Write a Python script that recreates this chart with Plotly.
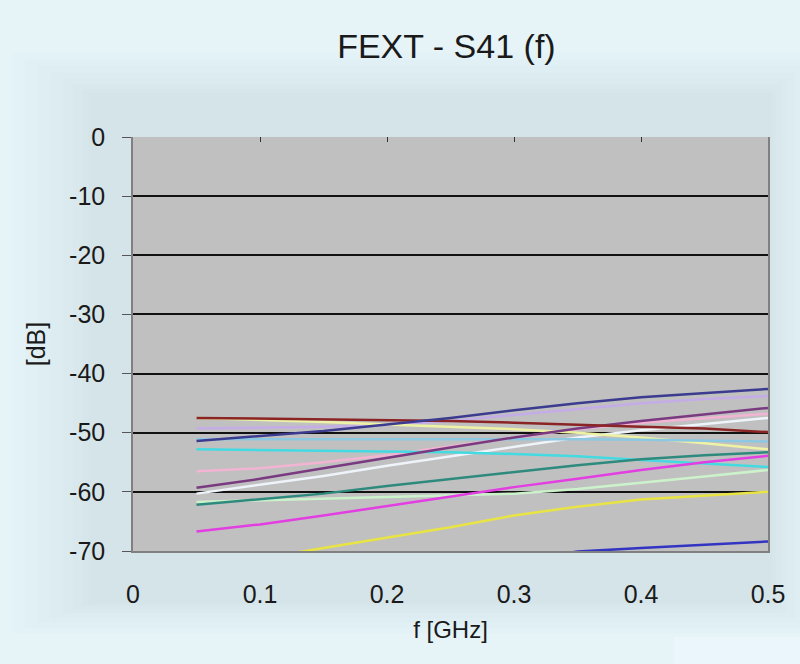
import plotly.graph_objects as go

freq = [0.05, 0.1, 0.15, 0.2, 0.25, 0.3, 0.35, 0.4, 0.45, 0.5]

s_lavender = [-49.3, -49.2, -49.0, -48.7, -48.0, -47.0, -46.0, -45.0, -44.3, -43.8]
s_pink = [-56.5, -56.0, -55.0, -53.8, -52.3, -50.8, -49.4, -48.3, -47.5, -46.8]
s_white = [-60.3, -58.8, -57.3, -55.6, -54.0, -52.4, -50.8, -49.6, -48.5, -47.5]
s_paleyellow = [-47.5, -47.8, -48.2, -48.6, -49.0, -49.4, -50.0, -50.8, -51.8, -52.8]
s_lightblue = [-51.1, -51.1, -51.0, -51.0, -51.0, -51.0, -51.1, -51.2, -51.4, -51.5]
s_palegreen = [-61.7, -61.4, -61.1, -60.8, -60.6, -60.3, -59.5, -58.5, -57.4, -56.3]
s_cyan = [-52.8, -52.9, -53.0, -53.1, -53.3, -53.6, -54.0, -54.6, -55.2, -55.8]
s_teal = [-62.2, -61.3, -60.3, -59.0, -57.8, -56.6, -55.5, -54.5, -53.8, -53.3]
s_purple = [-59.3, -57.8, -56.0, -54.2, -52.5, -50.8, -49.3, -48.0, -46.9, -45.8]
s_brown = [-47.5, -47.6, -47.7, -47.8, -48.0, -48.3, -48.7, -49.0, -49.3, -49.9]
s_navy = [-51.4, -50.6, -49.7, -48.6, -47.5, -46.2, -45.0, -44.0, -43.3, -42.6]
s_magenta = [-66.7, -65.5, -64.0, -62.4, -60.7, -59.2, -57.8, -56.3, -55.0, -53.9]
s_yellow = [-73.5, -71.3, -69.5, -67.7, -66.0, -64.0, -62.5, -61.3, -60.6, -60.0]
s_blue = [-78.0, -77.0, -75.8, -74.5, -73.0, -71.5, -70.1, -69.5, -69.0, -68.4]

series = [
    ("lavender", s_lavender, "#c4ace6"),
    ("pink", s_pink, "#f2b4d2"),
    ("white", s_white, "#eef4fa"),
    ("paleyellow", s_paleyellow, "#eef2a4"),
    ("lightblue", s_lightblue, "#8cc8e2"),
    ("palegreen", s_palegreen, "#ccf2cc"),
    ("cyan", s_cyan, "#44dae2"),
    ("teal", s_teal, "#2f8a7e"),
    ("purple", s_purple, "#7a3a80"),
    ("brown", s_brown, "#8b2424"),
    ("navy", s_navy, "#3b3b8f"),
    ("magenta", s_magenta, "#e23ee2"),
    ("yellow", s_yellow, "#e8e444"),
    ("blue", s_blue, "#3434c2"),
]

x_ticks = [0, 0.1, 0.2, 0.3, 0.4, 0.5]
x_tick_text = ["0", "0.1", "0.2", "0.3", "0.4", "0.5"]
y_ticks = [0, -10, -20, -30, -40, -50, -60, -70]
y_tick_text = ["0", "-10", "-20", "-30", "-40", "-50", "-60", "-70"]

FONT = "Liberation Sans, Arial, sans-serif"

fig = go.Figure()
for name, vals, col in series:
    fig.add_trace(go.Scatter(x=freq, y=vals, mode="lines", name=name,
                             line=dict(color=col, width=2.5), showlegend=False,
                             xaxis="x", yaxis="y"))

# invisible trace on top axis for tick marks
fig.add_trace(go.Scatter(x=[0, 0.5], y=[0, 0], mode="lines", line=dict(width=0),
                         showlegend=False, hoverinfo="skip", xaxis="x2", yaxis="y"))

shapes = []
# soft glow around the plot (stacked translucent rectangles)
for pad in [0.13, 0.11, 0.09, 0.07, 0.05, 0.035, 0.02, 0.01]:
    shapes.append(dict(type="rect", xref="paper", yref="paper",
                       x0=-0.06 - pad, x1=1.0 + pad * 0.6, y0=-0.12 - pad * 0.6, y1=1.10 + pad * 0.8,
                       fillcolor="rgba(165,200,200,0.035)", line=dict(width=0), layer="below"))
# light patch at lower right
shapes.append(dict(type="rect", xref="paper", yref="paper", x0=0.853, x1=1.06, y0=-0.2065, y1=-0.28,
                   fillcolor="#eaf6fb", line=dict(width=0), layer="below"))
# opaque plot background over the glow (gridlines stay on top)
shapes.append(dict(type="rect", xref="x", yref="y", x0=0, x1=0.5, y0=-70, y1=0,
                   fillcolor="#c0c0c0", line=dict(width=0), layer="below"))

fig.update_layout(
    width=800, height=664,
    paper_bgcolor="#e6f4f8",
    plot_bgcolor="#c0c0c0",
    margin=dict(l=133, r=32, t=137, b=113),
    title=dict(text="FEXT - S41 (f)", x=0.558, xanchor="center", y=0.93, yanchor="middle",
               font=dict(family=FONT, size=34, color="#1a1a1a")),
    xaxis=dict(range=[0, 0.5], tickvals=x_ticks, ticktext=x_tick_text,
               showgrid=False, zeroline=False, showline=True, linecolor="#808080", linewidth=1.5,
               ticks="", ticklabelstandoff=20,
               tickfont=dict(family=FONT, size=25, color="#1a1a1a"),
               title=dict(text="f [GHz]", font=dict(family=FONT, size=24, color="#1a1a1a"), standoff=14)),
    xaxis2=dict(range=[0, 0.5], overlaying="x", side="top", tickvals=x_ticks, ticks="inside",
                ticklen=5, tickcolor="#333333", showticklabels=False, showgrid=False,
                zeroline=False, showline=False),
    yaxis=dict(range=[-70, 0], tickvals=y_ticks, ticktext=y_tick_text,
               showgrid=True, gridcolor="#111111", gridwidth=1.5,
               zeroline=False, showline=True, linecolor="#808080", linewidth=1.5, mirror=True,
               ticks="outside", ticklen=9, tickcolor="#555555", ticklabelstandoff=12,
               tickfont=dict(family=FONT, size=25, color="#1a1a1a"),
               title=dict(text="[dB]", font=dict(family=FONT, size=25, color="#1a1a1a"), standoff=16)),
    shapes=shapes,
)

fig.write_html("out.html", config={"displayModeBar": False},
               post_script="document.body.style.margin='0';document.body.style.background='#e6f4f8';")
